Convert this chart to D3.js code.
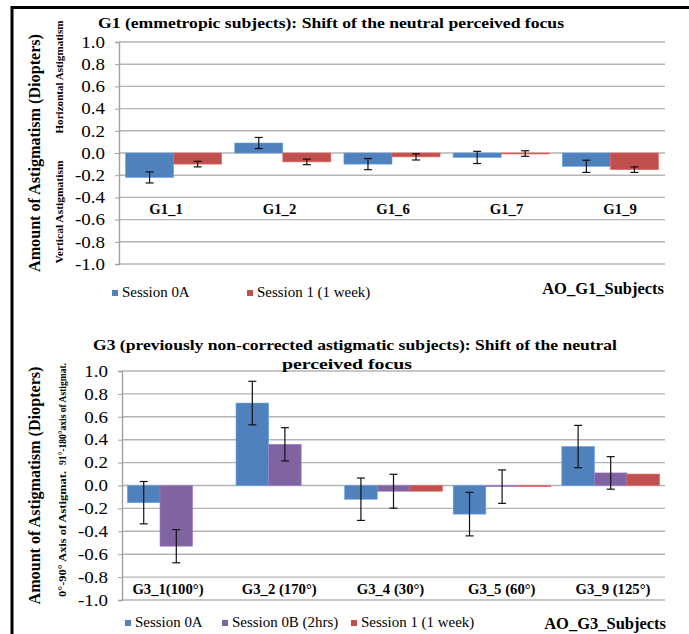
<html>
<head>
<meta charset="utf-8">
<title>AO astigmatism</title>
<style>
  body { margin: 0; background: #fff; }
</style>
</head>
<body>
<script src="https://d3js.org/d3.v7.min.js"></script>
<script>
// ---- data ----
var yTicks = [1.0, 0.8, 0.6, 0.4, 0.2, 0.0, -0.2, -0.4, -0.6, -0.8, -1.0];

var g1Cats = ['G1_1', 'G1_2', 'G1_6', 'G1_7', 'G1_9'];
var g1Session0A = [-0.22, 0.09, -0.10, -0.04, -0.12];
var g1Session0AErr = [0.05, 0.05, 0.05, 0.055, 0.055];
var g1Session1 = [-0.10, -0.08, -0.035, -0.005, -0.15];
var g1Session1Err = [0.025, 0.025, 0.028, 0.025, 0.025];

var g3Cats = ['G3_1(100°)', 'G3_2 (170°)', 'G3_4 (30°)', 'G3_5 (60°)', 'G3_9 (125°)'];
var g3Session0A = [-0.15, 0.72, -0.12, -0.25, 0.34];
var g3Session0AErr = [0.185, 0.19, 0.185, 0.19, 0.185];
var g3Session0B = [-0.53, 0.36, -0.05, -0.01, 0.11];
var g3Session0BErr = [0.145, 0.145, 0.148, 0.146, 0.142];
var g3Session1 = [null, null, -0.05, -0.01, 0.10];

var blue = '#4F81BD', red = '#C0504D', purple = '#8064A2';
var serif = "'Liberation Serif', 'Times New Roman', serif";

var width = 689, height = 634;
var svg = d3.select('body').append('svg')
    .attr('width', width).attr('height', height)
    .attr('font-family', serif);

// frame
svg.append('line').attr('x1', 11).attr('x2', width).attr('y1', 7.5).attr('y2', 7.5)
    .attr('stroke', '#000').attr('stroke-width', 3);
svg.append('line').attr('x1', 12).attr('x2', 12).attr('y1', 6).attr('y2', height)
    .attr('stroke', '#000').attr('stroke-width', 3);

function txt(sel) {
    return sel.append('text').attr('font-family', serif).attr('fill', '#000');
}
// the source picture is stretched sideways, so widen glyphs a bit
function stretch(sel, k) {
    sel.each(function() {
        var w = this.getComputedTextLength();
        d3.select(this).attr('textLength', w * k).attr('lengthAdjust', 'spacingAndGlyphs');
    });
    return sel;
}
function fit(sel, w) {
    return sel.attr('textLength', w).attr('lengthAdjust', 'spacingAndGlyphs');
}

function drawChart(opt) {
    var g = svg.append('g');
    var y = d3.scaleLinear().domain([-1, 1]).range([opt.bottom, opt.top]);
    var x0 = d3.scaleBand().domain(opt.cats).range([opt.left, opt.right])
        .paddingInner(opt.padIn).paddingOuter(opt.padOut);
    var x1 = d3.scaleBand().domain(d3.range(opt.series.length)).range([0, x0.bandwidth()]);

    // grid
    g.append('g').selectAll('line').data(yTicks).enter().append('line')
        .attr('x1', opt.left).attr('x2', opt.right)
        .attr('y1', function(d) { return y(d); }).attr('y2', function(d) { return y(d); })
        .attr('stroke', '#b4b4b4').attr('stroke-width', 1.4);

    // y axis
    var ax = g.append('g').attr('transform', 'translate(' + opt.left + ',0)')
        .call(d3.axisLeft(y).tickValues(yTicks).tickSize(4).tickPadding(10)
            .tickFormat(function(d) { return d.toFixed(1); }));
    ax.attr('font-family', serif);
    ax.select('.domain').attr('stroke', '#a0a0a0').attr('stroke-width', 1.4);
    ax.selectAll('.tick line').attr('stroke', '#a0a0a0');
    stretch(ax.selectAll('.tick text').attr('font-size', 16.5).attr('fill', '#000')
        .attr('font-family', serif), 1.15);

    // bars
    opt.series.forEach(function(s, si) {
        var rows = opt.cats.map(function(c, i) {
            return { cat: c, v: s.values[i], e: s.err ? s.err[i] : null };
        }).filter(function(r) { return r.v !== null; });
        g.append('g').selectAll('rect').data(rows).enter().append('rect')
            .attr('x', function(d) { return x0(d.cat) + x1(si); })
            .attr('width', x1.bandwidth())
            .attr('y', function(d) { return y(Math.max(0, d.v)); })
            .attr('height', function(d) { return Math.max(1, Math.abs(y(d.v) - y(0))); })
            .attr('fill', s.color).attr('stroke', d3.color(s.color).brighter(0.6))
            .attr('stroke-width', 0.6);
        var eb = g.append('g').selectAll('g').data(rows.filter(function(r) { return r.e !== null; }))
            .enter().append('g')
            .attr('transform', function(d) {
                return 'translate(' + (x0(d.cat) + x1(si) + x1.bandwidth() / 2) + ',0)';
            })
            .attr('stroke', '#111').attr('stroke-width', 1.2);
        eb.append('line').attr('y1', function(d) { return y(d.v + d.e); })
            .attr('y2', function(d) { return y(d.v - d.e); });
        eb.append('line').attr('x1', -4).attr('x2', 4)
            .attr('y1', function(d) { return y(d.v + d.e); }).attr('y2', function(d) { return y(d.v + d.e); });
        eb.append('line').attr('x1', -4).attr('x2', 4)
            .attr('y1', function(d) { return y(d.v - d.e); }).attr('y2', function(d) { return y(d.v - d.e); });
    });

    // category labels
    var lx = d3.scalePoint().domain(opt.cats).range(opt.labelRange);
    stretch(g.append('g').selectAll('text').data(opt.cats).enter().append('text')
        .attr('font-family', serif)
        .attr('x', function(d) { return lx(d); })
        .attr('y', y(opt.labelAt))
        .attr('text-anchor', 'middle').attr('font-weight', 'bold').attr('font-size', 14)
        .text(function(d) { return d; }), 1.05);

    // titles
    opt.title.forEach(function(t, i) {
        fit(txt(g).attr('x', opt.titleX[i]).attr('y', opt.titleY[i])
            .attr('text-anchor', 'middle').attr('font-weight', 'bold').attr('font-size', 15.5)
            .text(t), opt.titleW[i]);
    });

    // y title + side labels
    var mid = (opt.top + opt.bottom) / 2;
    fit(txt(g).attr('transform', 'translate(40,' + mid + ') rotate(-90)')
        .attr('text-anchor', 'middle').attr('font-weight', 'bold').attr('font-size', 17)
        .text('Amount of Astigmatism (Diopters)'), 238);
    fit(txt(g).attr('transform', 'translate(' + opt.sideX + ',' + opt.upperMid + ') rotate(-90)')
        .attr('text-anchor', 'middle').attr('font-weight', 'bold').attr('font-size', 11)
        .text(opt.upper), opt.upperW);
    fit(txt(g).attr('transform', 'translate(' + opt.sideX + ',' + opt.lowerMid + ') rotate(-90)')
        .attr('text-anchor', 'middle').attr('font-weight', 'bold').attr('font-size', 11)
        .text(opt.lower), opt.lowerW);

    // legend
    var lg = g.append('g').selectAll('g').data(opt.series).enter().append('g')
        .attr('transform', function(d, i) { return 'translate(' + opt.legendX[i] + ',' + opt.legendY + ')'; });
    lg.append('rect').attr('x', 0).attr('y', -7).attr('width', 6).attr('height', 6)
        .attr('fill', function(d) { return d.color; });
    stretch(lg.append('text').attr('font-family', serif).attr('x', 10).attr('y', 0).attr('font-size', 14.5)
        .text(function(d) { return d.name; }), 1.03);

    stretch(txt(g).attr('x', opt.subjectsX).attr('y', opt.subjectsY)
        .attr('text-anchor', 'end').attr('font-weight', 'bold').attr('font-size', 16)
        .text(opt.subjects), 1.03);
}

drawChart({
    cats: g1Cats,
    top: 42, bottom: 264, left: 119, right: 665,
    padIn: 0.12, padOut: 0.06,
    labelRange: [166, 620], labelAt: -0.55,
    series: [
        { name: 'Session 0A', values: g1Session0A, err: g1Session0AErr, color: blue },
        { name: 'Session 1 (1 week)', values: g1Session1, err: g1Session1Err, color: red }
    ],
    title: ['G1 (emmetropic subjects):  Shift of the neutral perceived focus'],
    titleX: [331], titleY: [28], titleW: [466],
    sideX: 63,
    upper: 'Horizontal Astigmatism', upperMid: 77, upperW: 113,
    lower: 'Vertical Astigmatism', lowerMid: 212, lowerW: 103,
    legendX: [112, 247], legendY: 297,
    subjects: 'AO_G1_Subjects', subjectsX: 664, subjectsY: 294
});

drawChart({
    cats: g3Cats,
    top: 371, bottom: 600, left: 122, right: 665,
    padIn: 0.1, padOut: 0.05,
    labelRange: [168, 613], labelAt: -0.95,
    series: [
        { name: 'Session 0A', values: g3Session0A, err: g3Session0AErr, color: blue },
        { name: 'Session 0B (2hrs)', values: g3Session0B, err: g3Session0BErr, color: purple },
        { name: 'Session 1 (1 week)', values: g3Session1, err: null, color: red }
    ],
    title: ['G3 (previously non-corrected astigmatic subjects): Shift of the neutral',
            'perceived focus'],
    titleX: [355, 347], titleY: [350, 369], titleW: [524, 130],
    sideX: 66,
    upper: '91°-180°axis of Astigmat.', upperMid: 414, upperW: 102,
    lower: '0°-90° Axis of Astigmat.', lowerMid: 534, lowerW: 126,
    legendX: [125, 222, 351], legendY: 627,
    subjects: 'AO_G3_Subjects', subjectsX: 666, subjectsY: 629
});
</script>
</body>
</html>
